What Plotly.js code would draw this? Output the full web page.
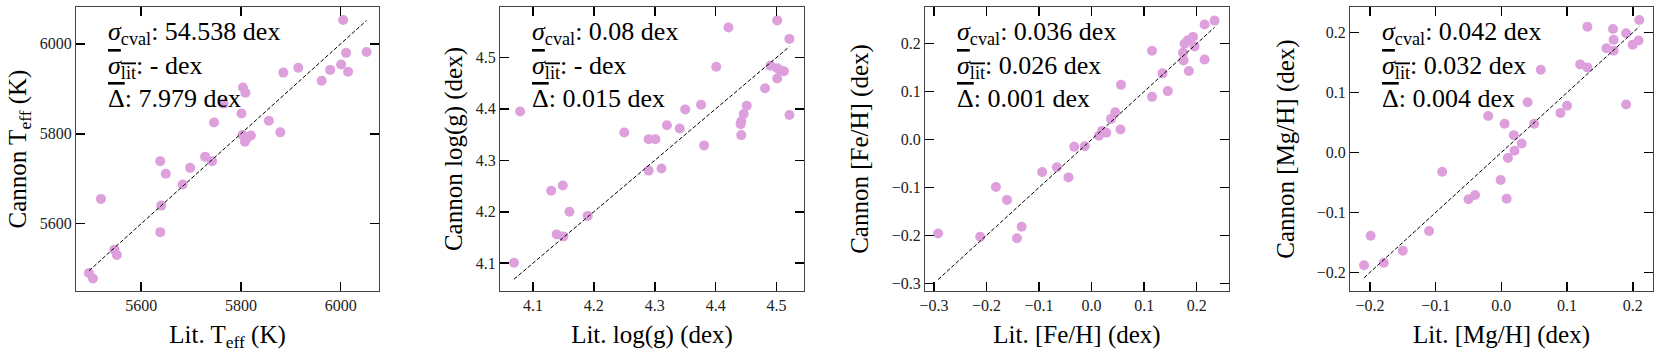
<!DOCTYPE html>
<html>
<head>
<meta charset="utf-8">
<script src="https://cdn.plot.ly/plotly-3.0.1.min.js"></script>
<style>
  html, body {margin:0; padding:0; background:#fff;}
  #cannon {width:1661px; height:353px;}
</style>
</head>
<body>
<div id="cannon"></div>
<script>
// Teff (K)
var teffLit =    [6005, 6011, 6052, 6001, 6015, 5979, 5962, 5915, 5885, 5804, 5809, 5765, 5801, 5746, 5856, 5879, 5803, 5808, 5812, 5820, 5728, 5742, 5638, 5649, 5698, 5683, 5519, 5640, 5638, 5546, 5551, 5495, 5503];
var teffCannon = [6053, 5980, 5982, 5954, 5938, 5942, 5918, 5947, 5936, 5903, 5891, 5867, 5845, 5825, 5829, 5803, 5797, 5782, 5790, 5796, 5749, 5739, 5739, 5711, 5724, 5687, 5655, 5640, 5581, 5542, 5530, 5490, 5478];

// log(g) (dex)
var loggLit =    [4.069, 4.079, 4.130, 4.149, 4.160, 4.139, 4.150, 4.190, 4.250, 4.290, 4.301, 4.290, 4.311, 4.320, 4.341, 4.350, 4.376, 4.381, 4.401, 4.421, 4.446, 4.442, 4.441, 4.442, 4.451, 4.481, 4.490, 4.501, 4.501, 4.501, 4.506, 4.512, 4.521, 4.521];
var loggCannon = [4.101, 4.395, 4.241, 4.251, 4.200, 4.156, 4.152, 4.192, 4.354, 4.341, 4.341, 4.280, 4.284, 4.368, 4.362, 4.399, 4.408, 4.329, 4.482, 4.558, 4.390, 4.376, 4.370, 4.349, 4.406, 4.440, 4.484, 4.572, 4.479, 4.459, 4.475, 4.473, 4.536, 4.388];

// [Fe/H] (dex)
var fehLit =    [-0.292, -0.212, -0.182, -0.161, -0.142, -0.133, -0.094, -0.066, -0.044, -0.033, -0.013, 0.014, 0.020, 0.028, 0.037, 0.045, 0.055, 0.056, 0.115, 0.115, 0.135, 0.145, 0.174, 0.175, 0.177, 0.183, 0.185, 0.193, 0.196, 0.215, 0.215, 0.234];
var fehCannon = [-0.196, -0.203, -0.099, -0.126, -0.206, -0.182, -0.068, -0.058, -0.079, -0.015, -0.014, 0.008, 0.018, 0.014, 0.043, 0.057, 0.021, 0.114, 0.089, 0.185, 0.138, 0.101, 0.181, 0.165, 0.200, 0.207, 0.143, 0.214, 0.194, 0.167, 0.240, 0.248];

// [Mg/H] (dex)
var mghLit =    [-0.209, -0.199, -0.179, -0.150, -0.110, -0.090, -0.050, -0.040, -0.020, -0.001, 0.005, 0.008, 0.010, 0.019, 0.020, 0.031, 0.040, 0.050, 0.060, 0.090, 0.100, 0.120, 0.131, 0.131, 0.160, 0.171, 0.171, 0.170, 0.190, 0.190, 0.200, 0.209, 0.210];
var mghCannon = [-0.188, -0.139, -0.184, -0.164, -0.131, -0.032, -0.078, -0.071, 0.061, -0.046, 0.048, -0.077, -0.009, 0.029, 0.003, 0.015, 0.084, 0.048, 0.138, 0.066, 0.078, 0.147, 0.142, 0.210, 0.174, 0.170, 0.188, 0.206, 0.199, 0.080, 0.180, 0.187, 0.221];

var sigmaCval = ['54.538', '0.08', '0.036', '0.042'];
var sigmaLit  = ['-', '-', '0.026', '0.032'];
var meanDelta = ['7.979', '0.015', '0.001', '0.004'];

var xTitles = ['Lit. T<sub>eff</sub> (K)', 'Lit. log(g) (dex)', 'Lit. [Fe/H] (dex)', 'Lit. [Mg/H] (dex)'];
var yTitles = ['Cannon T<sub>eff</sub> (K)', 'Cannon log(g) (dex)', 'Cannon [Fe/H] (dex)', 'Cannon [Mg/H] (dex)'];

var panels = [
  {lit: teffLit, can: teffCannon, xr: [5469, 6077], yr: [5450, 6082], dt: 200, fmt: 'd', ys: 6},
  {lit: loggLit, can: loggCannon, xr: [4.046, 4.545], yr: [4.046, 4.598], dt: 0.1, fmt: '.1f', ys: 6},
  {lit: fehLit,  can: fehCannon,  xr: [-0.317, 0.2615], yr: [-0.316, 0.2764], dt: 0.1, fmt: '.1f', ys: 15},
  {lit: mghLit,  can: mghCannon,  xr: [-0.2304, 0.2309], yr: [-0.2311, 0.2428], dt: 0.1, fmt: '.1f', ys: 15}
];

var xDomains = [[0.04576, 0.22818], [0.30103, 0.48405], [0.55689, 0.73992], [0.81277, 0.99518]];
var yDomain = [0.17564, 0.98017];
var serif = 'Liberation Serif';

var data = [];
var layout = {
  width: 1661, height: 353,
  margin: {l: 0, r: 0, t: 0, b: 0},
  paper_bgcolor: '#fff', plot_bgcolor: '#fff',
  showlegend: false,
  font: {family: serif, color: '#000'},
  annotations: []
};

for (let i = 0; i < panels.length; i++) {
  let p = panels[i];
  let sx = i == 0 ? '' : String(i + 1);
  let lo = Math.min.apply(null, p.lit);
  let hi = Math.max.apply(null, p.lit);

  data.push({
    x: p.lit, y: p.can, xaxis: 'x' + sx, yaxis: 'y' + sx,
    type: 'scatter', mode: 'markers',
    marker: {color: 'plum', size: 10}
  });
  // one-to-one line
  data.push({
    x: [lo, hi], y: [lo, hi], xaxis: 'x' + sx, yaxis: 'y' + sx,
    type: 'scatter', mode: 'lines',
    line: {color: '#000', width: 1, dash: '4px,2px'}
  });

  let ax = {
    showgrid: false, zeroline: false,
    showline: true, linecolor: '#444', linewidth: 1, mirror: 'ticks',
    ticks: 'inside', ticklen: 9, tickwidth: 1.6, tickcolor: '#000',
    tickfont: {family: serif, size: 16, color: '#222'},
    dtick: p.dt, tickformat: p.fmt
  };
  layout['xaxis' + sx] = Object.assign({}, ax, {
    domain: xDomains[i], range: p.xr, anchor: 'y' + sx,
    title: {text: xTitles[i], font: {family: serif, size: 25}, standoff: 12}
  });
  layout['yaxis' + sx] = Object.assign({}, ax, {
    domain: yDomain, range: p.yr, anchor: 'x' + sx,
    title: {text: yTitles[i], font: {family: serif, size: 25}, standoff: p.ys}
  });

  let lines = [
    '<i>σ</i><sub>cval</sub>: ' + sigmaCval[i] + ' dex',
    '<span style="text-decoration:overline"><i>σ</i><sub>lit</sub></span>: ' + sigmaLit[i] + ' dex',
    '<span style="text-decoration:overline">Δ</span>: ' + meanDelta[i] + ' dex'
  ];
  let ys = [0.91, 0.79, 0.677];
  for (let k = 0; k < 3; k++) {
    layout.annotations.push({
      xref: 'x' + sx + ' domain', yref: 'y' + sx + ' domain',
      x: 0.1, y: ys[k], xanchor: 'left', yanchor: 'middle',
      text: lines[k], showarrow: false,
      font: {family: serif, size: 26, color: '#000'}
    });
  }
}

Plotly.newPlot('cannon', data, layout, {staticPlot: true});
</script>
</body>
</html>
